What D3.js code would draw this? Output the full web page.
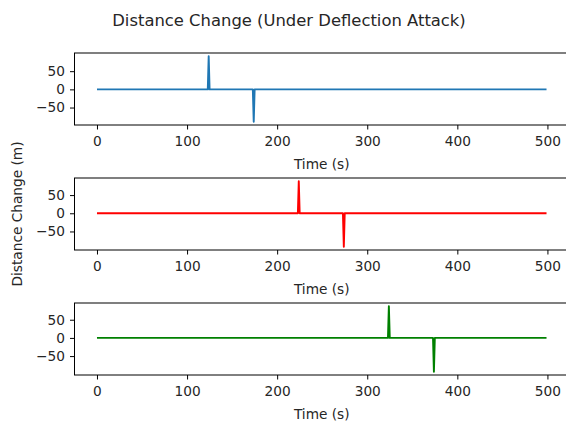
<!DOCTYPE html>
<html>
<head>
<meta charset="utf-8">
<script src="https://cdn.jsdelivr.net/npm/d3@7"></script>
<style>
  html, body { margin: 0; padding: 0; background: #fff; }
  svg { display: block; }
  text { font-family: "DejaVu Sans", sans-serif; fill: #262626; }
</style>
</head>
<body>
<svg id="chart" width="566" height="421"></svg>
<script>
// ---- data (sparse: the series is 0 everywhere except the listed spikes) ----
const timeStart = 0;
const timeEnd = 499;
const blueTimes  = [0, 123, 124, 125, 173, 174, 175, 499];
const blueValues = [0, 0, 91, 0, 0, -89, 0, 0];
const redTimes   = [0, 223, 224, 225, 273, 274, 275, 499];
const redValues  = [0, 0, 88, 0, 0, -92, 0, 0];
const greenTimes  = [0, 323, 324, 325, 373, 374, 375, 499];
const greenValues = [0, 0, 87, 0, 0, -93, 0, 0];
const xTicks = [0, 100, 200, 300, 400, 500];
const yTicks = [-50, 0, 50];
const seriesColors = ["#1f77b4", "#ff0000", "#008000"];
const titleText = "Distance Change (Under Deflection Attack)";
const xLabel = "Time (s)";
const yLabel = "Distance Change (m)";

const panels = [
  { times: blueTimes, values: blueValues, color: seriesColors[0], top: 53 },
  { times: redTimes, values: redValues, color: seriesColors[1], top: 178 },
  { times: greenTimes, values: greenValues, color: seriesColors[2], top: 303 }
];

const svg = d3.select("#chart");
const left = 74.5, right = 569, panelH = 72;
const fs = 13.7;

const xm = (timeEnd - timeStart) * 0.05;
const x = d3.scaleLinear().domain([timeStart - xm, timeEnd + xm]).range([left, right]);

panels.forEach(p => {
  const mn = d3.min(p.values), mx = d3.max(p.values);
  const ym = (mx - mn) * 0.05;
  const y = d3.scaleLinear().domain([mn - ym, mx + ym]).range([p.top + panelH, p.top]);
  const g = svg.append("g");
  const bottom = p.top + panelH;

  // data line
  const pts = p.times.map((t, i) => [t, p.values[i]]);
  g.append("path")
    .datum(pts)
    .attr("fill", "none")
    .attr("stroke", p.color)
    .attr("stroke-width", 1.9)
    .attr("stroke-linejoin", "round")
    .attr("stroke-linecap", "butt")
    .attr("d", d3.line().x(d => x(d[0])).y(d => y(d[1])));

  // frame
  g.append("rect")
    .attr("x", left).attr("y", p.top)
    .attr("width", right - left).attr("height", panelH)
    .attr("fill", "none").attr("stroke", "#000").attr("stroke-width", 1);

  // x axis
  const xa = g.append("g").attr("transform", `translate(0,${bottom})`)
    .call(d3.axisBottom(x).tickValues(xTicks).tickSize(4.5).tickPadding(6.5).tickFormat(d3.format("d")));
  xa.select(".domain").remove();
  xa.selectAll("line").attr("stroke", "#000");
  xa.selectAll("text").attr("font-size", fs).attr("font-family", "DejaVu Sans").attr("fill", "#262626");

  // y axis
  const ya = g.append("g").attr("transform", `translate(${left},0)`)
    .call(d3.axisLeft(y).tickValues(yTicks).tickSize(4.5).tickPadding(5).tickFormat(d => d < 0 ? "\u2212" + Math.abs(d) : d));
  ya.select(".domain").remove();
  ya.selectAll("line").attr("stroke", "#000");
  ya.selectAll("text").attr("font-size", fs).attr("font-family", "DejaVu Sans").attr("fill", "#262626");

  // x label
  g.append("text")
    .attr("x", (left + right) / 2).attr("y", bottom + 43.5)
    .attr("text-anchor", "middle").attr("font-size", fs)
    .text(xLabel);
});

// y label
svg.append("text")
  .attr("transform", "translate(21.7,214) rotate(-90)")
  .attr("text-anchor", "middle").attr("font-size", fs)
  .text(yLabel);

// title
svg.append("text")
  .attr("x", 289).attr("y", 26)
  .attr("text-anchor", "middle").attr("font-size", 16.4)
  .text(titleText);
</script>
</body>
</html>
